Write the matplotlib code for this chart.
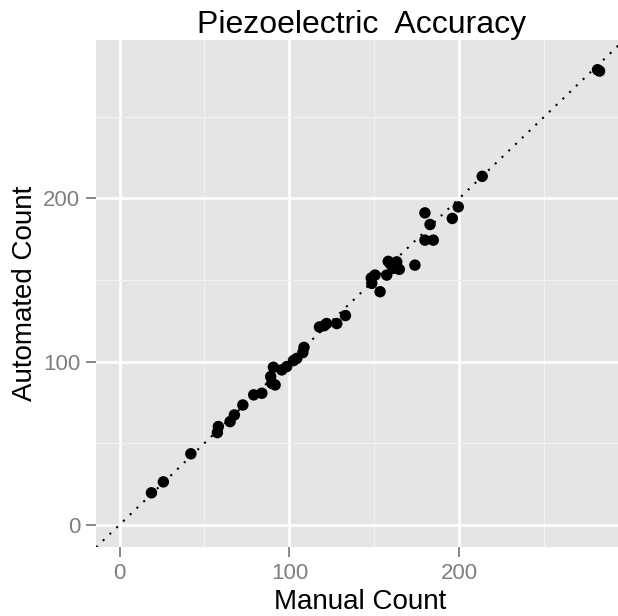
import numpy as np
import matplotlib
matplotlib.use('Agg')
import matplotlib.pyplot as plt
from matplotlib.ticker import MultipleLocator

plt.rcParams['font.family'] = ['Liberation Sans', 'DejaVu Sans']

# Manual vs automated counts
manual_count = [18.8, 25.8, 42.0, 57.6, 58.2, 65.1, 67.6, 72.6, 79.0, 83.8,
                89.0, 89.6, 90.6, 91.6, 95.5, 98.4, 102.4, 104.3, 107.9, 108.6,
                117.7, 120.5, 121.9, 127.9, 133.0, 148.5, 148.2, 150.4, 153.4, 157.3,
                158.2, 159.2, 161.2, 163.2, 164.7, 173.9, 179.8, 179.8, 182.8, 184.7,
                195.9, 199.4, 213.5, 281.4, 282.6]
automated_count = [19.6, 26.3, 43.5, 56.5, 60.2, 63.2, 67.3, 73.4, 79.6, 80.6,
                   90.8, 86.7, 96.5, 85.7, 94.9, 96.9, 100.6, 101.9, 105.5, 108.7,
                   121.2, 122.0, 123.3, 123.3, 128.2, 147.9, 151.2, 153.0, 142.8, 153.0,
                   161.4, 160.2, 157.1, 161.1, 156.5, 159.1, 174.4, 191.1, 184.0, 174.4,
                   187.7, 194.8, 213.5, 278.8, 278.0]

title = 'Piezoelectric  Accuracy'
x_label = 'Manual Count'
y_label = 'Automated Count'

fig = plt.figure(figsize=(6.18, 6.16), dpi=100)
# panel runs a bit past the right edge, like the cropped original
ax = fig.add_axes([0.1549, 0.1115, 0.8557, 0.8235])
ax.set_facecolor('#E5E5E5')
for s in ax.spines.values():
    s.set_visible(False)

# ggplot-like grid
ax.xaxis.set_major_locator(MultipleLocator(100))
ax.yaxis.set_major_locator(MultipleLocator(100))
ax.xaxis.set_minor_locator(MultipleLocator(50))
ax.yaxis.set_minor_locator(MultipleLocator(50))
ax.grid(which='major', color='white', linewidth=1.9)
ax.grid(which='minor', color='#F2F2F2', linewidth=0.8)
ax.set_axisbelow(True)

# 1:1 reference line
ax.axline((0, 0), slope=1, color='black', linewidth=1.5,
          linestyle=(0, (1, 3.5)), zorder=2)
ax.scatter(manual_count, automated_count, s=68, color='black',
           edgecolors='none', zorder=3)

ax.set_xlim(-14.0, 297.3)
ax.set_ylim(-13.8, 297.0)

ax.tick_params(which='major', labelsize=16, labelcolor='#7F7F7F',
               color='#7F7F7F', length=7, width=1.3, pad=4)
ax.tick_params(which='minor', length=0)

fig.text(362 / 618, 0.946, title, ha='center', va='baseline', fontsize=23)
fig.text(360 / 618, 0.011, x_label, ha='center', va='baseline', fontsize=20)
fig.text(25 / 618, (616 - 293.7) / 616, y_label, ha='center', va='center',
         rotation=90, fontsize=20)

fig.savefig('out.png', dpi=100)
